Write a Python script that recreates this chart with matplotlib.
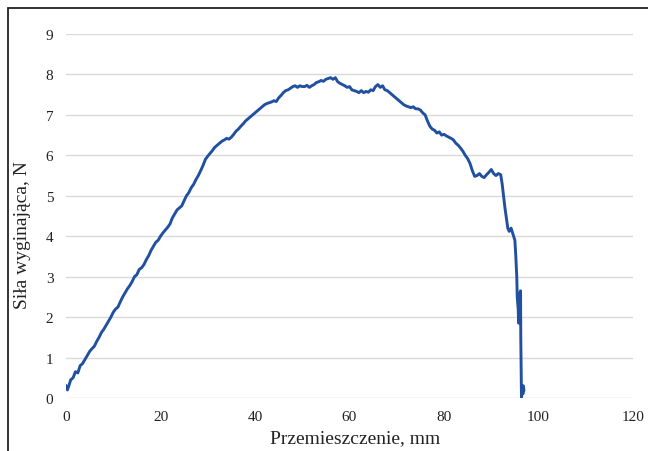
import matplotlib
matplotlib.use("Agg")
import matplotlib.pyplot as plt
from matplotlib.patches import Rectangle

# displacement (mm) and bending force (N)
displacement = [
    0, 0.3, 0.6, 1, 1.5, 2, 2.5, 3, 3.5, 4, 4.5, 5, 5.5, 6, 6.5, 7, 7.5, 8, 8.5, 9,
    9.5, 10, 10.5, 11, 11.5, 12, 12.5, 13, 13.5, 14, 14.5, 15, 15.5, 16, 16.5, 17,
    17.5, 18, 18.5, 19, 19.5, 20, 20.5, 21, 21.5, 22, 22.5, 23, 23.5, 24, 24.5, 25,
    25.5, 26, 26.5, 27, 27.5, 28, 28.5, 29, 29.5, 30, 30.5, 31, 31.5, 32, 32.5, 33,
    33.5, 34, 34.5, 35, 35.5, 36, 36.5, 37, 37.5, 38, 38.5, 39, 39.5, 40, 40.5, 41,
    41.5, 42, 42.5, 43, 43.5, 44, 44.5, 45, 45.5, 46, 46.5, 47, 47.5, 48, 48.5, 49,
    49.5, 50, 50.5, 51, 51.5, 52, 52.5, 53, 53.5, 54, 54.5, 55, 55.5, 56, 56.5, 57,
    57.5, 58, 58.5, 59, 59.5, 60, 60.5, 61, 61.5, 62, 62.5, 63, 63.5, 64, 64.5, 65,
    65.5, 66, 66.5, 67, 67.5, 68, 68.5, 69, 69.5, 70, 70.5, 71, 71.5, 72, 72.5, 73,
    73.5, 74, 74.5, 75, 75.5, 76, 76.5, 77, 77.5, 78, 78.5, 79, 79.5, 80, 80.5, 81,
    81.5, 82, 82.5, 83, 83.5, 84, 84.5, 85, 85.5, 86, 86.5, 87, 87.5, 88, 88.5, 89,
    89.5, 90, 90.5, 91, 91.5, 92, 92.3, 92.6, 92.9, 93.2, 93.5, 93.8, 94.2, 94.6,
    95, 95.2, 95.4, 95.5, 95.7, 95.8, 96.0, 96.1, 96.2, 96.25, 96.35, 96.4, 96.5,
    96.6, 96.7, 96.8, 96.9,
]
force = [
    0.3, 0.2, 0.3, 0.45, 0.5, 0.65, 0.62, 0.8, 0.85, 0.95, 1.05, 1.15, 1.22, 1.28,
    1.4, 1.5, 1.62, 1.7, 1.8, 1.9, 2.0, 2.12, 2.2, 2.25, 2.38, 2.5, 2.6, 2.7, 2.78,
    2.88, 3.0, 3.05, 3.18, 3.22, 3.3, 3.42, 3.52, 3.65, 3.75, 3.85, 3.9, 4.0, 4.08,
    4.15, 4.22, 4.3, 4.45, 4.55, 4.65, 4.7, 4.75, 4.88, 5.0, 5.08, 5.2, 5.28, 5.4,
    5.5, 5.62, 5.75, 5.9, 5.98, 6.05, 6.12, 6.2, 6.25, 6.3, 6.35, 6.38, 6.42, 6.4,
    6.45, 6.52, 6.6, 6.65, 6.72, 6.78, 6.85, 6.9, 6.95, 7.0, 7.05, 7.1, 7.15, 7.2,
    7.25, 7.28, 7.3, 7.32, 7.35, 7.33, 7.42, 7.48, 7.55, 7.6, 7.62, 7.66, 7.7, 7.72,
    7.68, 7.72, 7.7, 7.7, 7.73, 7.68, 7.72, 7.75, 7.8, 7.82, 7.85, 7.83, 7.88, 7.9,
    7.92, 7.88, 7.92, 7.82, 7.78, 7.75, 7.72, 7.68, 7.7, 7.62, 7.6, 7.58, 7.55, 7.6,
    7.55, 7.58, 7.56, 7.62, 7.6, 7.7, 7.75, 7.68, 7.72, 7.62, 7.6, 7.55, 7.5, 7.45,
    7.4, 7.35, 7.3, 7.25, 7.22, 7.2, 7.18, 7.2, 7.15, 7.15, 7.12, 7.05, 7.0, 6.85,
    6.72, 6.65, 6.62, 6.55, 6.58, 6.5, 6.52, 6.48, 6.45, 6.42, 6.38, 6.3, 6.25, 6.18,
    6.1, 6.0, 5.92, 5.8, 5.62, 5.48, 5.5, 5.55, 5.48, 5.45, 5.52, 5.58, 5.65, 5.55,
    5.5, 5.55, 5.52, 5.3, 5.0, 4.7, 4.45, 4.2, 4.12, 4.2, 4.05, 3.9, 3.5, 3.0, 2.5,
    2.2, 1.85, 2.6, 2.1, 2.65, 1.5, 0.5, 0.0, 0.2, 0.3, 0.1, 0.3, 0.2,
]

x_ticks = [0, 20, 40, 60, 80, 100, 120]
y_ticks = [0, 1, 2, 3, 4, 5, 6, 7, 8, 9]

plt.rcParams['font.family'] = ['Liberation Serif', 'DejaVu Serif']

fig = plt.figure(figsize=(6.48, 4.52), dpi=100)
ax = fig.add_axes([66 / 648, 1 - 399 / 452, 567 / 648, 364 / 452])

ax.plot(displacement, force, color='#2150a0', lw=2.1, solid_joinstyle='round')

ax.set_xlim(0, 120)
ax.set_ylim(0, 9)
ax.set_xticks(x_ticks)
ax.set_yticks(y_ticks)
ax.tick_params(length=0, labelsize=11, colors='#222222', pad=9)
ax.grid(axis='y', color='#d9d9d9', lw=1)
ax.set_axisbelow(True)
for s in ax.spines.values():
    s.set_visible(False)

ax.set_xlabel('Przemieszczenie, mm', fontsize=14, color='#222222')
ax.set_ylabel('Siła wyginająca, N', fontsize=14, color='#222222')
ax.xaxis.set_label_coords((355 - 66) / 567, -0.085)
ax.yaxis.set_label_coords((31 - 66) / 567, (399 - 235) / 364)

# outer frame, cut by the right and bottom image edges
fig.patches.append(Rectangle((8 / 648, -0.1), 1.2, 1 - 9 / 452 + 0.1,
                             transform=fig.transFigure, fill=False,
                             ec='#222222', lw=1.3))

fig.savefig('out.png', dpi=100)
